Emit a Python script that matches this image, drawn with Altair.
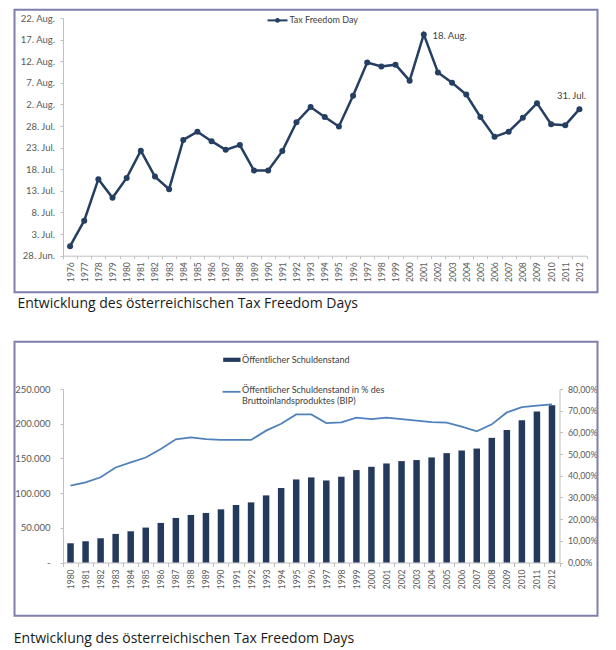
import altair as alt
import pandas as pd

# ---------------- data ----------------
years_tfd = list(range(1976, 2013))
# days after 28 June
tfd_days = [2.2, 8.1, 17.7, 13.4, 18.0, 24.3, 18.3, 15.4, 26.8, 28.7, 26.5, 24.5,
            25.6, 19.7, 19.7, 24.2, 30.9, 34.4, 32.1, 29.9, 37.0, 44.7, 43.8, 44.2,
            40.5, 51.2, 42.4, 40.0, 37.3, 32.1, 27.5, 28.7, 31.9, 35.3, 30.4, 30.2, 33.9]
tfd_tick_days = [0, 5, 10, 15, 20, 25, 30, 35, 40, 45, 50, 55]
tfd_tick_labels = ["28. Jun.", "3. Jul.", "8. Jul.", "13. Jul.", "18. Jul.", "23. Jul.",
                   "28. Jul.", "2. Aug.", "7. Aug.", "12. Aug.", "17. Aug.", "22. Aug."]
tfd_series = "Tax Freedom Day"
ann_years = [2001, 2012]
ann_labels = ["18. Aug.", "31. Jul."]

years_debt = list(range(1980, 2013))
debt = [27700, 30600, 34900, 41200, 45000, 50300, 57000, 64200, 68500, 71400,
        76600, 82900, 86600, 96700, 107300, 119700, 122600, 118200, 123600, 133200,
        137900, 142700, 146100, 147600, 151400, 157600, 161400, 164200, 179600, 191100,
        205000, 217400, 226600]
debt_pct = [35.5, 37.0, 39.3, 43.8, 46.2, 48.4, 52.3, 56.8, 57.7, 56.9,
            56.5, 56.5, 56.5, 60.8, 64.0, 68.3, 68.3, 64.3, 64.6, 66.8,
            66.1, 66.8, 66.1, 65.4, 64.7, 64.5, 62.6, 60.5, 63.7, 69.2,
            71.6, 72.3, 72.9]
debt_ticks = [0, 50000, 100000, 150000, 200000, 250000]
pct_ticks = [0, 10, 20, 30, 40, 50, 60, 70, 80]
bar_series = "Öffentlicher Schuldenstand"
line_series = "Öffentlicher Schuldenstand in % des\nBruttoinlandsproduktes (BIP)"

caption = "Entwicklung des österreichischen Tax Freedom Days"

# ---------------- style ----------------
FONT = "Lato"
CAP_FONT = "Open Sans"
LABEL_COLOR = "#595959"
AXIS_COLOR = "#bfbfbf"
NAVY = "#253f62"
BAR = "#243a5c"
BLUE = "#4f81bd"
BORDER = "#7f7fae"

W1, H1 = 523.5, 237.7
W2, H2 = 496.5, 173.5


def one(text):
    return alt.Chart(pd.DataFrame({"t": [text]}))


def axis_x(pad, tick):
    return alt.Axis(title=None, labelAngle=270, tickBand="extent", tickSize=tick,
                    tickColor=AXIS_COLOR, domainColor=AXIS_COLOR, labelPadding=pad,
                    labelFontSize=8.5, labelColor=LABEL_COLOR, labelFont=FONT, grid=False)


# ---------------- top chart ----------------
tfd_df = pd.DataFrame({"year": years_tfd, "day": tfd_days})
ann_df = pd.DataFrame({"year": ann_years, "label": ann_labels})
ann_df = ann_df.merge(tfd_df, on="year")

label_expr = "[" + ",".join("'%s'" % s for s in tfd_tick_labels) + "][round(datum.value/5)]"

x_top = alt.X("year:O", scale=alt.Scale(type="band", paddingInner=0, paddingOuter=0),
              axis=axis_x(3, 3))
y_top = alt.Y("day:Q", scale=alt.Scale(domain=[0, 55], nice=False, zero=False),
              axis=alt.Axis(title=None, values=tfd_tick_days, labelExpr=label_expr,
                            tickSize=3, tickColor=AXIS_COLOR, domainColor=AXIS_COLOR,
                            labelPadding=5.5, labelFontSize=9.5, labelColor=LABEL_COLOR,
                            labelFont=FONT, grid=False))

base_top = alt.Chart(tfd_df).encode(x=x_top, y=y_top)
line_top = base_top.mark_line(color=NAVY, strokeWidth=2.5)
pts_top = base_top.mark_circle(color=NAVY, size=36, opacity=1)

ann1 = alt.Chart(ann_df[ann_df.year == ann_years[0]]).mark_text(
    align="left", baseline="middle", dx=8.7, dy=2, fontSize=9.5, font=FONT, color="#404040"
).encode(x=x_top, y=y_top, text="label:N")
ann2 = alt.Chart(ann_df[ann_df.year == ann_years[1]]).mark_text(
    align="center", baseline="middle", dx=-8, dy=-12.7, fontSize=9.5, font=FONT, color="#404040"
).encode(x=x_top, y=y_top, text="label:N")

leg_rule = one(tfd_series).mark_rule(color=NAVY, strokeWidth=2).encode(
    x=alt.value(204.5), x2=alt.value(224.5), y=alt.value(2.4))
leg_pt = one(tfd_series).mark_circle(color=NAVY, size=22, opacity=1).encode(
    x=alt.value(214.5), y=alt.value(2.4))
leg_txt = one(tfd_series).mark_text(align="left", baseline="middle", fontSize=9,
                                    font=FONT, color="#404040").encode(
    x=alt.value(226.5), y=alt.value(2.4), text="t:N")

border_top = one("").mark_rect(filled=False, stroke=BORDER, strokeWidth=2).encode(
    x=alt.value(-48.5), x2=alt.value(534.5), y=alt.value(-8.3), y2=alt.value(274.2))
spacer_top = one("").mark_rect(fill="white", opacity=0).encode(
    x=alt.value(-48.5), x2=alt.value(534.5), y=alt.value(-9.3), y2=alt.value(321))
cap_top = one(caption).mark_text(align="left", baseline="middle", fontSize=14,
                                 font=CAP_FONT, color="#1a1a1a").encode(
    x=alt.value(-45.5), y=alt.value(285.7), text="t:N")

top = alt.layer(spacer_top, border_top, line_top, pts_top, ann1, ann2,
                leg_rule, leg_pt, leg_txt, cap_top).properties(width=W1, height=H1)

# ---------------- bottom chart ----------------
debt_df = pd.DataFrame({"year": years_debt, "debt": debt, "pct": debt_pct})

x_bot = alt.X("year:O", scale=alt.Scale(type="band", paddingInner=0, paddingOuter=0),
              axis=axis_x(2.5, 4))

bars = alt.Chart(debt_df).mark_bar(color=BAR, size=6.5).encode(
    x=x_bot,
    y=alt.Y("debt:Q", scale=alt.Scale(domain=[0, 250000], nice=False),
            axis=alt.Axis(title=None, orient="left", values=debt_ticks,
                          labelExpr="datum.value == 0 ? '-' : replace(format(datum.value, ','), ',', '.')",
                          tickSize=3, tickColor=AXIS_COLOR, domainColor=AXIS_COLOR,
                          labelPadding=10, labelFontSize=9.5, labelColor=LABEL_COLOR,
                          labelFont=FONT, grid=False)))

line_bot = alt.Chart(debt_df).mark_line(color=BLUE, strokeWidth=1.8).encode(
    x=x_bot,
    y=alt.Y("pct:Q", scale=alt.Scale(domain=[0, 80], nice=False),
            axis=alt.Axis(title=None, orient="right", values=pct_ticks,
                          labelExpr="replace(format(datum.value, '.2f'), '.', ',') + '%'",
                          tickSize=3, tickColor=AXIS_COLOR, domainColor=AXIS_COLOR,
                          labelPadding=5, labelFontSize=8.8, labelColor=LABEL_COLOR,
                          labelFont=FONT, grid=False)))

leg_sq = one(bar_series).mark_rect(color=BAR).encode(
    x=alt.value(160.2), x2=alt.value(177.5), y=alt.value(-31.3), y2=alt.value(-27.1))
leg_sq_txt = one(bar_series).mark_text(align="left", baseline="middle", fontSize=9,
                                       font=FONT, color="#404040").encode(
    x=alt.value(179), y=alt.value(-29.2), text="t:N")
leg_ln = one(line_series).mark_rule(color=BLUE, strokeWidth=1.8).encode(
    x=alt.value(159.5), x2=alt.value(177.5), y=alt.value(2.8))
leg_ln_txt = one(line_series).mark_text(align="left", baseline="top", fontSize=9,
                                        font=FONT, color="#404040", lineBreak="\n",
                                        lineHeight=10.7).encode(
    x=alt.value(179), y=alt.value(-2.6), text="t:N")

border_bot = one("").mark_rect(filled=False, stroke=BORDER, strokeWidth=2).encode(
    x=alt.value(-48.5), x2=alt.value(534.5), y=alt.value(-47.2), y2=alt.value(226.8))
cap_bot = one(caption).mark_text(align="left", baseline="middle", fontSize=14,
                                 font=CAP_FONT, color="#1a1a1a").encode(
    x=alt.value(-49.2), y=alt.value(250.2), text="t:N")

bottom = alt.layer(border_bot, bars, line_bot, leg_sq, leg_sq_txt, leg_ln, leg_ln_txt,
                   cap_bot).resolve_scale(y="independent").properties(width=W2, height=H2)

chart = alt.vconcat(top, bottom, spacing=0).properties(
    padding={"left": 5, "top": 0, "right": 0, "bottom": 0}
).configure_view(stroke="transparent")

chart.save("out.html", embed_options={"renderer": "svg", "actions": False})
